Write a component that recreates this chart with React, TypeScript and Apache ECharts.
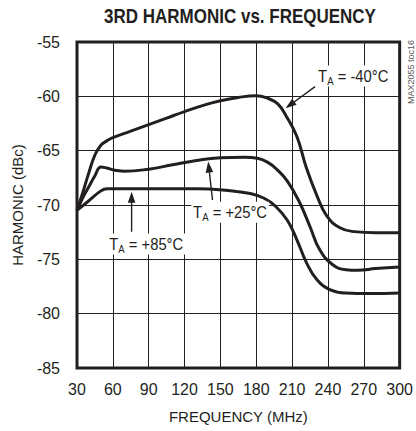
import { useEffect, useRef } from "react";
import * as echarts from "echarts";

const FONT = '"Liberation Sans", Arial, sans-serif';
const INK = "#231f20";

// Frequency axis ticks (MHz) and harmonic axis range (dBc)
const freqMin = 30;
const freqMax = 300;
const freqStep = 30;
const harmMin = -85;
const harmMax = -55;
const harmStep = 5;

// TA = -40°C
const freqCold = [30, 35, 40, 45, 50, 55, 60, 75, 90, 105, 120, 135, 150, 165, 180, 190, 198, 205, 214, 222, 231, 239, 250, 262, 280, 300];
const harmCold = [-70.5, -68.8, -67.0, -65.4, -64.5, -64.1, -63.8, -63.2, -62.6, -62.0, -61.4, -60.85, -60.4, -60.1, -59.95, -60.2, -60.7, -61.8, -63.7, -66.6, -69.2, -71.0, -72.1, -72.45, -72.55, -72.55];

// TA = +25°C
const freqRoom = [30, 35, 40, 45, 50, 55, 62, 70, 90, 110, 130, 150, 170, 181, 190, 197, 206, 216, 225, 233, 244, 255, 265, 280, 300];
const harmRoom = [-70.5, -69.3, -68.3, -67.3, -66.5, -66.6, -66.8, -66.9, -66.7, -66.3, -65.9, -65.65, -65.6, -65.7, -66.1, -66.7, -67.8, -69.7, -72.0, -74.1, -75.5, -75.95, -76.0, -75.85, -75.7];

// TA = +85°C
const freqHot = [30, 40, 50, 55, 70, 100, 130, 155, 175, 187, 196, 206, 214, 222, 231, 242, 255, 275, 300];
const harmHot = [-70.5, -69.6, -68.7, -68.5, -68.5, -68.5, -68.5, -68.65, -68.95, -69.4, -70.1, -71.4, -73.2, -75.3, -76.9, -77.8, -78.1, -78.15, -78.1];

const zip = (xs: number[], ys: number[]) => xs.map((x, i) => [x, ys[i]]);

type Pt = [number, number];

function arrowShapes(tail: number[], tip: number[]) {
  const dx = tip[0] - tail[0];
  const dy = tip[1] - tail[1];
  const len = Math.hypot(dx, dy);
  const ux = dx / len;
  const uy = dy / len;
  const headLen = 11;
  const halfW = 3.8;
  const bx = tip[0] - ux * headLen;
  const by = tip[1] - uy * headLen;
  return [
    {
      type: "line",
      z: 20,
      shape: { x1: tail[0], y1: tail[1], x2: bx + ux * 2, y2: by + uy * 2 },
      style: { stroke: INK, lineWidth: 1.4 },
    },
    {
      type: "polygon",
      z: 20,
      shape: {
        points: [
          [tip[0], tip[1]],
          [bx - uy * halfW, by + ux * halfW],
          [bx + uy * halfW, by - ux * halfW],
        ],
      },
      style: { fill: INK },
    },
  ];
}

function tempLabel(temp: string, pos: number[]) {
  return {
    type: "text",
    z: 15,
    x: pos[0] - 2,
    y: pos[1] - 16.5,
    scaleX: 0.87,
    style: {
      text: `{m|T}{s|A}{m| = ${temp}}`,
      backgroundColor: "#fff",
      padding: [0, 2, 0, 2],
      rich: {
        m: { fontSize: 17, fontFamily: FONT, fill: INK, lineHeight: 21 },
        s: { fontSize: 11, fontFamily: FONT, fill: INK, lineHeight: 21, verticalAlign: "bottom" },
      },
    },
  };
}

export default function App() {
  const ref = useRef<HTMLDivElement>(null);

  useEffect(() => {
    if (!ref.current) return;
    const chart = echarts.init(ref.current, null, { renderer: "svg" });

    const makeSeries = (name: string, data: number[][]) => ({
      name,
      type: "line",
      data,
      showSymbol: false,
      smooth: 0.45,
      lineStyle: { color: INK, width: 3 },
      z: 5,
    });

    chart.setOption({
      animation: false,
      grid: {
        left: 77,
        top: 42,
        right: 12,
        bottom: 63,
        show: true,
        borderColor: INK,
        borderWidth: 3,
        backgroundColor: "transparent",
      },
      xAxis: {
        type: "value",
        min: freqMin,
        max: freqMax,
        interval: freqStep,
        name: "FREQUENCY (MHz)",
        nameLocation: "middle",
        nameGap: 41,
        nameTextStyle: { fontSize: 15, fontFamily: FONT, color: INK },
        axisLine: { show: false },
        axisTick: { show: false },
        splitLine: { show: true, lineStyle: { color: INK, width: 1 } },
        axisLabel: { fontSize: 16, fontFamily: FONT, color: INK, margin: 13 },
      },
      yAxis: {
        type: "value",
        min: harmMin,
        max: harmMax,
        interval: harmStep,
        name: "HARMONIC (dBc)",
        nameLocation: "middle",
        nameGap: 52,
        nameTextStyle: { fontSize: 15, fontFamily: FONT, color: INK },
        axisLine: { show: false },
        axisTick: { show: false },
        splitLine: { show: true, lineStyle: { color: INK, width: 1 } },
        axisLabel: { fontSize: 16, fontFamily: FONT, color: INK, margin: 17 },
      },
      series: [
        makeSeries("TA = -40°C", zip(freqCold, harmCold)),
        makeSeries("TA = +25°C", zip(freqRoom, harmRoom)),
        makeSeries("TA = +85°C", zip(freqHot, harmHot)),
      ],
    });

    const px = (p: Pt) => chart.convertToPixel({ gridIndex: 0 }, p) as number[];

    const graphic: any[] = [
      {
        type: "text",
        x: 240,
        y: 16,
        scaleX: 0.85,
        style: {
          text: "3RD HARMONIC vs. FREQUENCY",
          fontSize: 20,
          fontWeight: "bold",
          fontFamily: FONT,
          fill: INK,
          align: "center",
          verticalAlign: "middle",
        },
      },
      {
        type: "text",
        x: 411,
        y: 72,
        rotation: Math.PI / 2,
        style: {
          text: "MAX2055 toc16",
          fontSize: 9,
          fontFamily: FONT,
          fill: "#555",
          align: "center",
          verticalAlign: "middle",
        },
      },
      tempLabel("-40°C", px([232, -58.68])),
      tempLabel("+25°C", px([127.4, -71.22])),
      tempLabel("+85°C", px([57.25, -74.14])),
      ...arrowShapes(px([229.2, -59.11]), px([204.5, -61.1])),
      ...arrowShapes(px([143.4, -69.54]), px([139.8, -66.0])),
      ...arrowShapes(px([75.7, -72.46]), px([75.7, -68.78])),
    ];

    chart.setOption({ graphic });

    return () => chart.dispose();
  }, []);

  return (
    <div
      ref={ref}
      style={{ position: "fixed", left: 0, top: 0, width: 416, height: 431, background: "#fff" }}
    />
  );
}
